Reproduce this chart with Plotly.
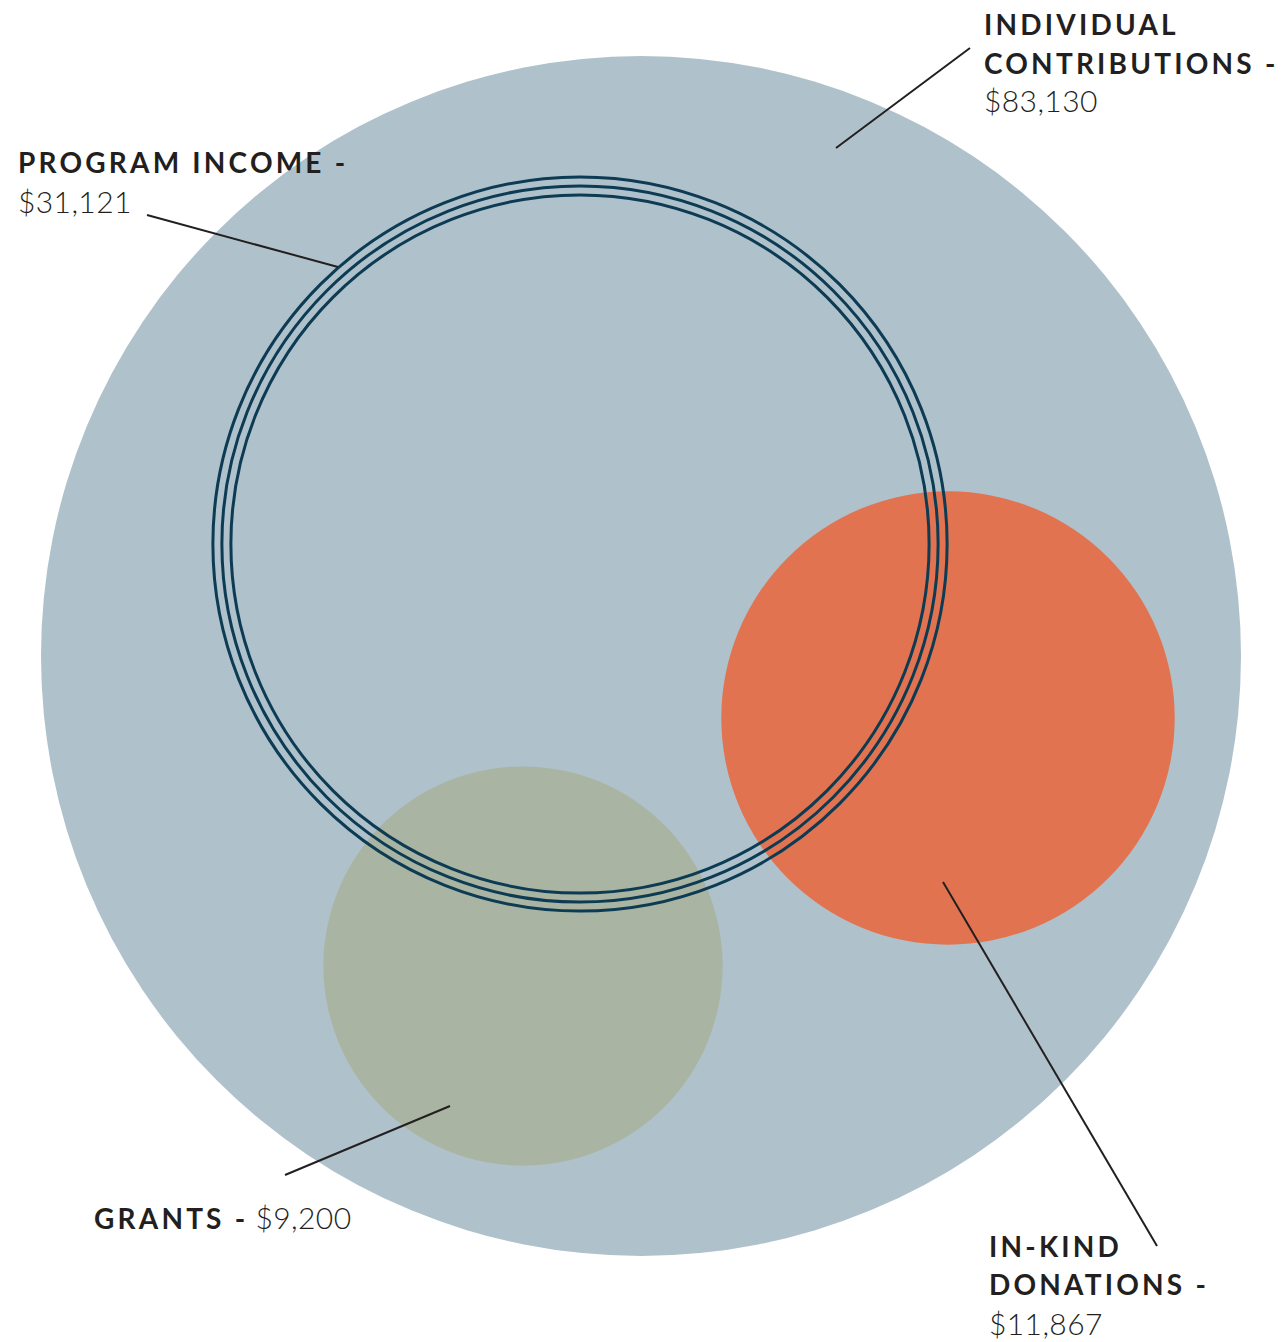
import math
import plotly.graph_objects as go

# ---- data ----
labels = ["INDIVIDUAL CONTRIBUTIONS", "PROGRAM INCOME", "IN-KIND DONATIONS", "GRANTS"]
values = [83130, 31121, 11867, 9200]

# ---- layout / style (pixel space) ----
W, H = 1284, 1342
max_radius_px = 600
centers = [(641, 656), (580, 544), (948, 718), (523, 966)]
fills = ["#afc1cb", None, "#e27350", "#a9b5a2"]
ring_color = "#0c3b53"
ring_offsets = [0, 9, 18]
text_color = "#231f20"

# leader lines: (start, end) in pixels
leaders = [
    ((970, 48), (836, 148)),
    ((147, 215), (338, 267)),
    ((943, 882), (1157, 1246)),
    ((285, 1175), (450, 1106)),
]

label_x = [982, 16, 987, 92]
label_lines = [
    [["INDIVIDUAL"], ["CONTRIBUTIONS -"], None],
    [["PROGRAM INCOME -"], None],
    [["IN-KIND"], ["DONATIONS -"], None],
    [["GRANTS -", "inline"]],
]
baselines = [[35, 74, 112], [173, 213], [1257, 1295, 1335], [1229]]

scale = max_radius_px / math.sqrt(max(values))
radii = [scale * math.sqrt(v) for v in values]

fig = go.Figure()
shapes = []

order = [0, 3, 2]
for i in order:
    cx, cy = centers[i]
    r = radii[i]
    shapes.append(dict(type="circle", xref="x", yref="y",
                       x0=cx - r, x1=cx + r, y0=cy - r, y1=cy + r,
                       fillcolor=fills[i], line=dict(width=0), layer="above"))
cx, cy = centers[1]
for off in ring_offsets:
    r = radii[1] - off
    shapes.append(dict(type="circle", xref="x", yref="y",
                       x0=cx - r, x1=cx + r, y0=cy - r, y1=cy + r,
                       fillcolor="rgba(0,0,0,0)",
                       line=dict(width=3, color=ring_color), layer="above"))
for (p0, p1) in leaders:
    shapes.append(dict(type="line", xref="x", yref="y",
                       x0=p0[0], y0=p0[1], x1=p1[0], y1=p1[1],
                       line=dict(width=2, color=text_color), layer="above"))

FS = 28
BOLD = '<span style="font-weight:700;letter-spacing:3.2px">{}</span>'
LIGHT = '<span style="font-weight:300;font-size:30px;letter-spacing:0.4px">{}</span>'

annotations = []
for i in range(len(labels)):
    val_txt = "${:,}".format(values[i])
    for j, line in enumerate(label_lines[i]):
        if line is None:
            txt = LIGHT.format(val_txt)
            dy = 12
        elif len(line) == 2:
            txt = BOLD.format(line[0]) + " " + LIGHT.format(val_txt)
            dy = 12
        else:
            txt = BOLD.format(line[0])
            dy = 11
        annotations.append(dict(x=label_x[i], y=baselines[i][j] - dy, xref="x", yref="y",
                                text=txt, showarrow=False, xanchor="left", yanchor="middle",
                                font=dict(family="Lato", size=FS, color=text_color)))

fig.update_layout(
    width=W, height=H,
    margin=dict(l=0, r=0, t=0, b=0),
    paper_bgcolor="white", plot_bgcolor="white",
    xaxis=dict(range=[0, W], visible=False, fixedrange=True),
    yaxis=dict(range=[H, 0], visible=False, fixedrange=True),
    shapes=shapes, annotations=annotations, showlegend=False,
)

fig.write_html("out.html", config={"displayModeBar": False},
               post_script="document.body.style.margin='0';document.body.style.overflow='hidden';")
